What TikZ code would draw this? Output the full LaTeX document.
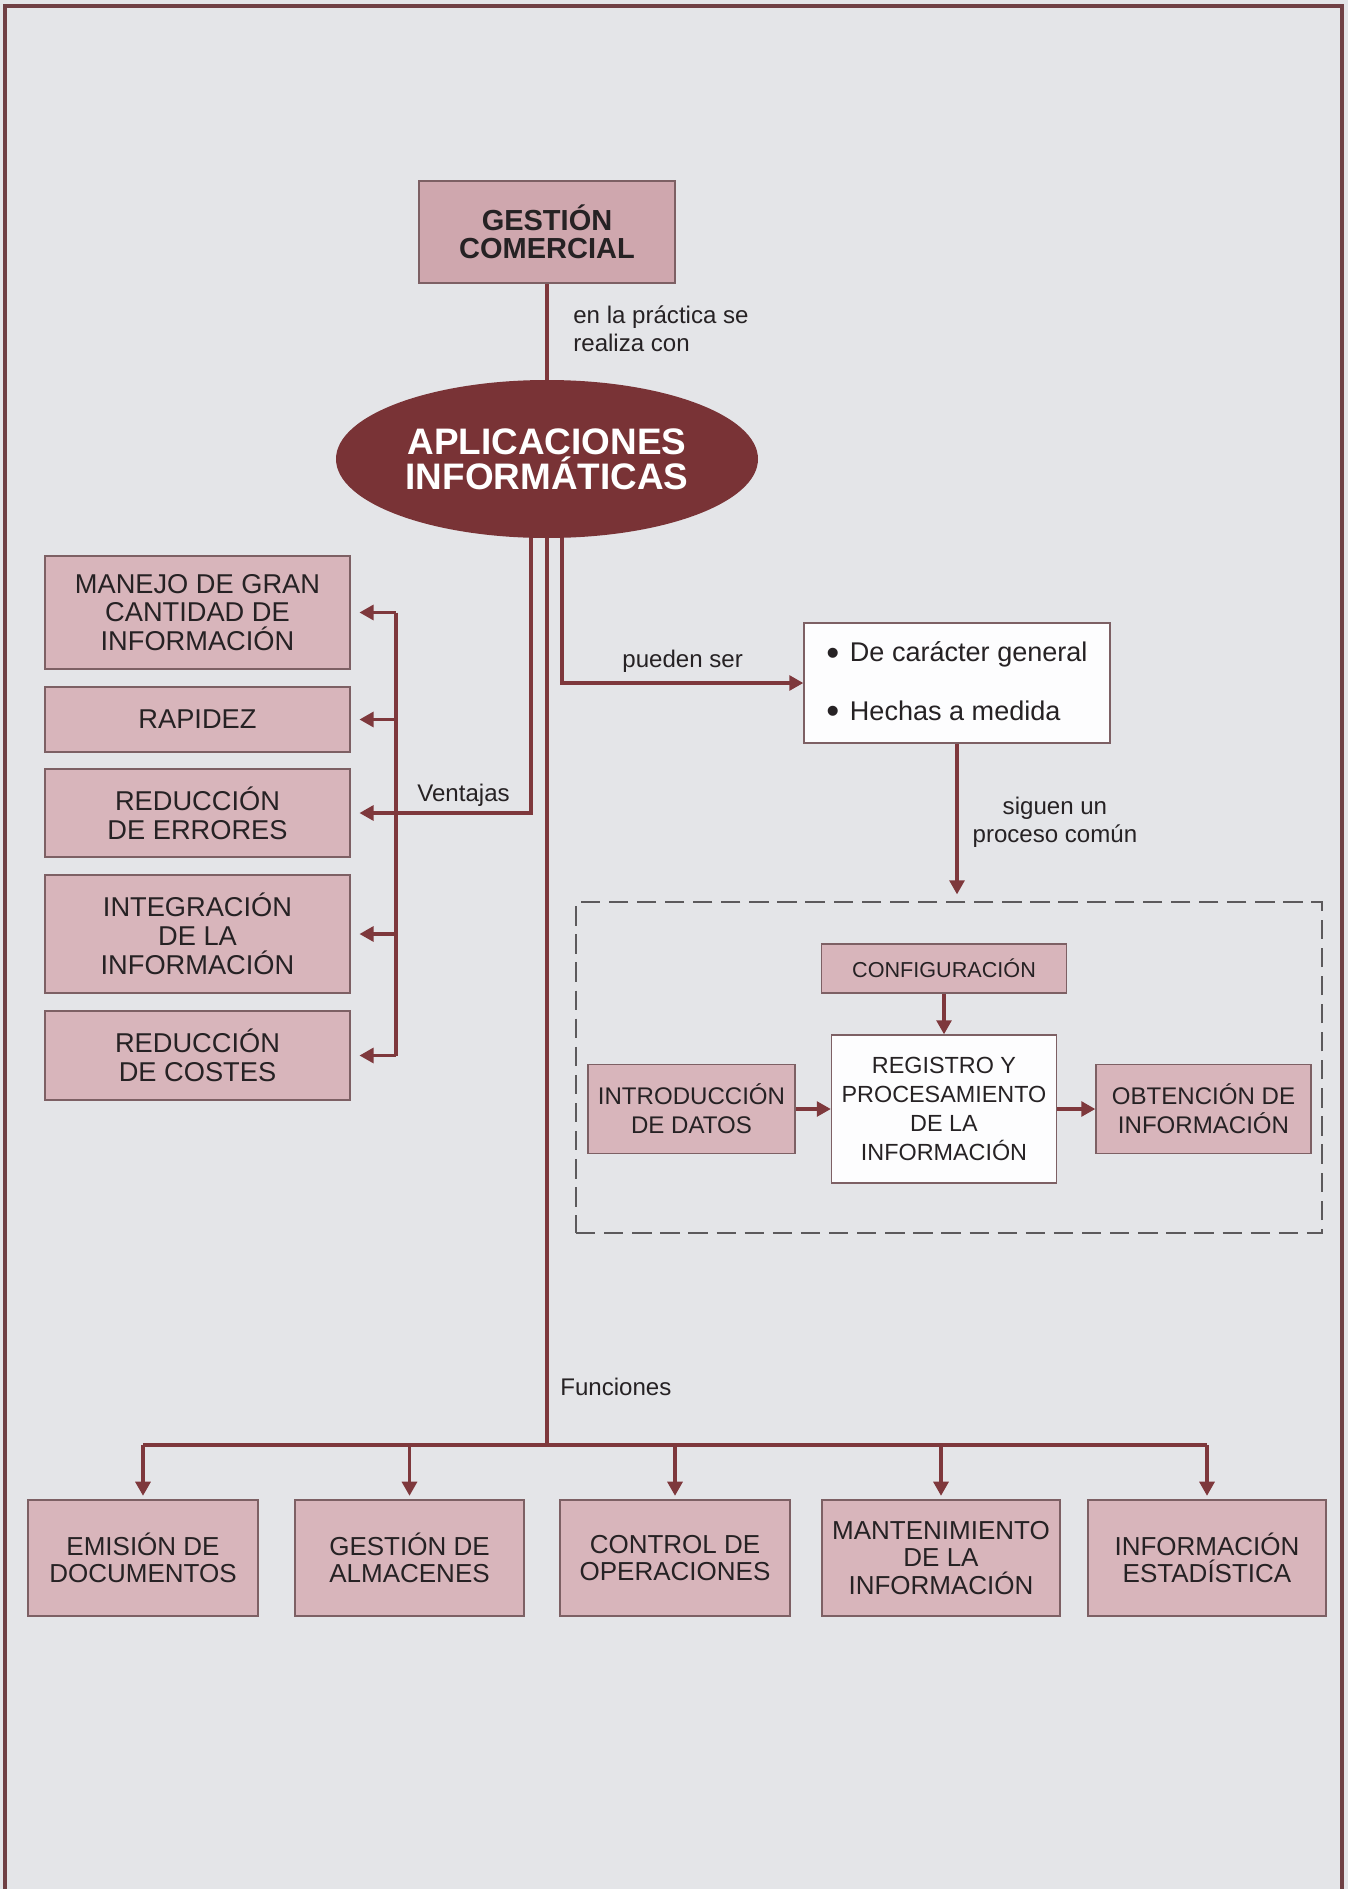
\documentclass[tikz,border=0pt]{standalone}
\usepackage{fontspec}
\setmainfont{Liberation Sans}
\usepackage{tikz}
\usetikzlibrary{arrows.meta,backgrounds,calc,positioning,shapes.geometric}

\definecolor{papier}{RGB}{228,229,232}
\definecolor{rosa}{RGB}{216,181,187}
\definecolor{rosadunkel}{RGB}{207,167,174}
\definecolor{weinrot}{RGB}{121,51,54}
\definecolor{linienrot}{RGB}{126,56,60}
\definecolor{rahmenrot}{RGB}{112,64,68}
\definecolor{kante}{RGB}{125,96,100}
\definecolor{schrift}{RGB}{38,34,36}
\definecolor{strich}{RGB}{92,90,92}

\newcommand{\pix}{0.02cm}
\newcommand{\punkt}{\raisebox{-1.8pt}{\fontsize{21}{0}\selectfont\textbullet}\hspace{6pt}}

\tikzset{
  kasten/.style={draw=kante, line width=0.8pt, fill=rosa, text=schrift, align=center, inner sep=0pt},
  weiss/.style={kasten, fill=white!94!papier},
  linie/.style={draw=linienrot, line width=1.8pt},
  pfeil/.style={linie, -{Triangle[length=8pt,width=8.5pt]}},
  txt/.style={text=schrift, font=\fontsize{13.7}{16}\selectfont, inner sep=0pt, align=center},
}

\begin{document}
\begin{tikzpicture}[x=\pix, y=-\pix]
%Alles in Pixeln, y zeigt nach unten
\useasboundingbox (0,0) rectangle (1348,1889);
\begin{scope}[on background layer]
\fill[papier] (0,0) rectangle (1348,1889);
\end{scope}
\draw[rahmenrot, line width=2.4pt] (5,1889) -- (5,6) -- (1342,6) -- (1342,1889);

\node[kasten, fill=rosadunkel, minimum width=256*\pix, minimum height=102*\pix, font=\bfseries\fontsize{16.5}{16}\selectfont] (gc) at (547,232) {GESTIÓN\\COMERCIAL};
\node[ellipse, fill=weinrot, text=white, inner sep=0pt, align=center, minimum width=422*\pix, minimum height=158*\pix, font=\bfseries\fontsize{21}{19.8}\selectfont] (ai) at (547,459) {APLICACIONES\\INFORMÁTICAS};
\node[txt, align=left, anchor=west] (praxis) at (573,329) {en la práctica se\\realiza con};

%Ventajas links
\foreach \y/\h/\t [count=\i] in {612.5/113/{MANEJO DE GRAN\\CANTIDAD DE\\INFORMACIÓN}, 719.5/65/{RAPIDEZ}, 813/88/{REDUCCIÓN\\DE ERRORES}, 934/118/{INTEGRACIÓN\\DE LA\\INFORMACIÓN}, 1055.5/89/{REDUCCIÓN\\DE COSTES}}{
\node[kasten, minimum width=305*\pix, minimum height=\h*\pix, font=\fontsize{15.5}{16.4}\selectfont] (v\i) at (197.5,\y) {\t};
}
\coordinate (klammer) at (396,0);

%Arten und gemeinsamer Ablauf rechts
\node[weiss, minimum width=306*\pix, minimum height=120*\pix, align=left, font=\fontsize{15.4}{33.5}\selectfont] (art) at (957,683) {\punkt De carácter general\\\punkt Hechas a medida};
\node[draw=strich, line width=0.7pt, dash pattern=on 11pt off 5pt, minimum width=746*\pix, minimum height=331*\pix] (ablauf) at (949,1067.5) {};
\node[kasten, minimum width=245*\pix, minimum height=49*\pix, font=\fontsize{12.3}{14}\selectfont] (conf) at (944,968.5) {CONFIGURACIÓN};
\node[weiss, minimum width=225*\pix, minimum height=148*\pix, font=\fontsize{13.3}{16.4}\selectfont] (reg) at (944,1109) {REGISTRO Y\\PROCESAMIENTO\\DE LA\\INFORMACIÓN};
\node[kasten, minimum width=207*\pix, minimum height=89*\pix, font=\fontsize{13.7}{16.4}\selectfont] (intro) at (691.5,1109) {INTRODUCCIÓN\\DE DATOS};
\node[kasten, minimum width=215*\pix, minimum height=89*\pix, font=\fontsize{13.7}{16.4}\selectfont] (obt) at (1203.5,1109) {OBTENCIÓN DE\\INFORMACIÓN};

%Funciones unten
\foreach \x/\w/\t [count=\i] in {143/230/{EMISIÓN DE\\DOCUMENTOS}, 409.5/229/{GESTIÓN DE\\ALMACENES}, 675/230/{CONTROL DE\\OPERACIONES}, 941/238/{MANTENIMIENTO\\DE LA\\INFORMACIÓN}, 1207/238/{INFORMACIÓN\\ESTADÍSTICA}}{
\node[kasten, minimum width=\w*\pix, minimum height=116*\pix, font=\fontsize{14.8}{15.6}\selectfont] (f\i) at (\x,1558) {\t};
}
\coordinate (verteiler) at (547,1445);
\node[txt, anchor=west] (fkt) at (560,1387) {Funciones};

%Linien liegen hinter der Ellipse
\begin{scope}[on background layer]
\draw[linie] (gc) -- (ai.center);
\draw[linie] (ai.center) -- (verteiler);
\draw[linie] ([xshift=-16*\pix]ai.center) |- (klammer |- v3.east) node[pos=0.75, above=3pt, txt] {Ventajas};
\draw[linie] (klammer |- v1.east) -- (klammer |- v5.east);
\foreach \i in {1,...,5}
  \draw[pfeil, shorten >=5pt] (klammer |- v\i.east) -- (v\i.east);
\draw[pfeil] ([xshift=15*\pix]ai.center) |- (art.west) node[pos=0.75, above=5pt, txt] {pueden ser};
\draw[pfeil, shorten >=4pt] (art.south) -- (art.south |- ablauf.north) node[midway, right=8pt, txt] {siguen un\\proceso común};
\draw[pfeil] (conf) -- (reg);
\draw[pfeil] (intro) -- (reg);
\draw[pfeil] (reg) -- (obt);
\draw[linie] (f1.north |- verteiler) -- (f5.north |- verteiler);
\foreach \i in {1,...,5}
  \draw[pfeil, shorten >=2pt] (f\i.north |- verteiler) -- (f\i.north);
\end{scope}
\end{tikzpicture}
\end{document}
